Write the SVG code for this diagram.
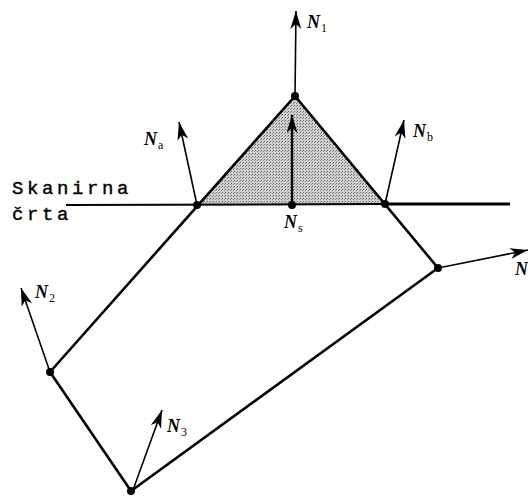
<svg xmlns="http://www.w3.org/2000/svg" width="528" height="496" viewBox="0 0 528 496">
<style>
.edge{stroke:#000;stroke-width:2.6;fill:none;stroke-linecap:round}
.nv{stroke:#000;stroke-width:1.6;fill:none;marker-end:url(#ah)}
.dot{fill:#000}
.lbl{font-family:"Liberation Serif",serif;font-style:italic;font-weight:bold;font-size:18px}
.sub{font-family:"Liberation Serif",serif;font-size:12px}
.mono{font-family:"Liberation Mono",monospace;font-size:19px;letter-spacing:3.6px;stroke:#000;stroke-width:0.4}
</style>
<defs>
<marker id="ah" markerWidth="20" markerHeight="12" refX="18" refY="5.5" orient="auto" markerUnits="userSpaceOnUse">
<path d="M18,5.5 L0,0 L5,5.5 L0,11 Z" fill="#000"/>
</marker>
<pattern id="stip" width="3" height="3" patternUnits="userSpaceOnUse">
<rect width="3" height="3" fill="#cfcfcf"/>
<rect width="1" height="1" fill="#666"/>
<rect x="2" y="1" width="1" height="1" fill="#888"/>
</pattern>
</defs>
<g id="shade"><polygon points="295,96 197,205 385,204" fill="url(#stip)"/></g>
<g id="connectors">
<line class="edge" x1="295" y1="96" x2="50" y2="372"/>
<line class="edge" x1="295" y1="96" x2="438" y2="268"/>
<line class="edge" x1="50" y1="372" x2="131" y2="491"/>
<line class="edge" x1="131" y1="491" x2="438" y2="268"/>
<line stroke="#000" stroke-width="2" x1="66" y1="205" x2="385" y2="204"/>
<line stroke="#000" stroke-width="3" x1="385" y1="204" x2="510" y2="204"/>
<line class="nv" x1="295" y1="96" x2="296" y2="11"/>
<line class="nv" x1="292" y1="205" x2="292" y2="115" style="stroke-width:2.4"/>
<line class="nv" x1="197" y1="205" x2="179" y2="122"/>
<line class="nv" x1="385" y1="204" x2="404" y2="120"/>
<line class="nv" x1="438" y1="268" x2="528" y2="250"/>
<line class="nv" x1="50" y1="372" x2="21" y2="288"/>
<line class="nv" x1="133" y1="490" x2="162" y2="410"/>
</g>
<g id="v-top"><circle class="dot" cx="295" cy="96" r="4"/><text class="lbl" x="307" y="28">N</text><text class="sub" x="321" y="32">1</text></g>
<g id="v-a"><circle class="dot" cx="197" cy="205" r="4"/><text class="lbl" x="144" y="145">N</text><text class="sub" x="158" y="149">a</text></g>
<g id="v-b"><circle class="dot" cx="385" cy="204" r="4"/><text class="lbl" x="413" y="137">N</text><text class="sub" x="427" y="141">b</text></g>
<g id="v-s"><circle class="dot" cx="292" cy="205" r="4"/><text class="lbl" x="284" y="228">N</text><text class="sub" x="298" y="232">s</text></g>
<g id="v-4"><circle class="dot" cx="438" cy="268" r="4"/><text class="lbl" x="515" y="275">N</text></g>
<g id="v-2"><circle class="dot" cx="50" cy="372" r="4"/><text class="lbl" x="35" y="298">N</text><text class="sub" x="49" y="302">2</text></g>
<g id="v-3"><circle class="dot" cx="131" cy="491" r="4"/><text class="lbl" x="167" y="432">N</text><text class="sub" x="181" y="436">3</text></g>
<g id="scan-label"><text class="mono" x="12" y="194">Skanirna</text><text class="mono" x="12" y="220">črta</text></g>
</svg>
